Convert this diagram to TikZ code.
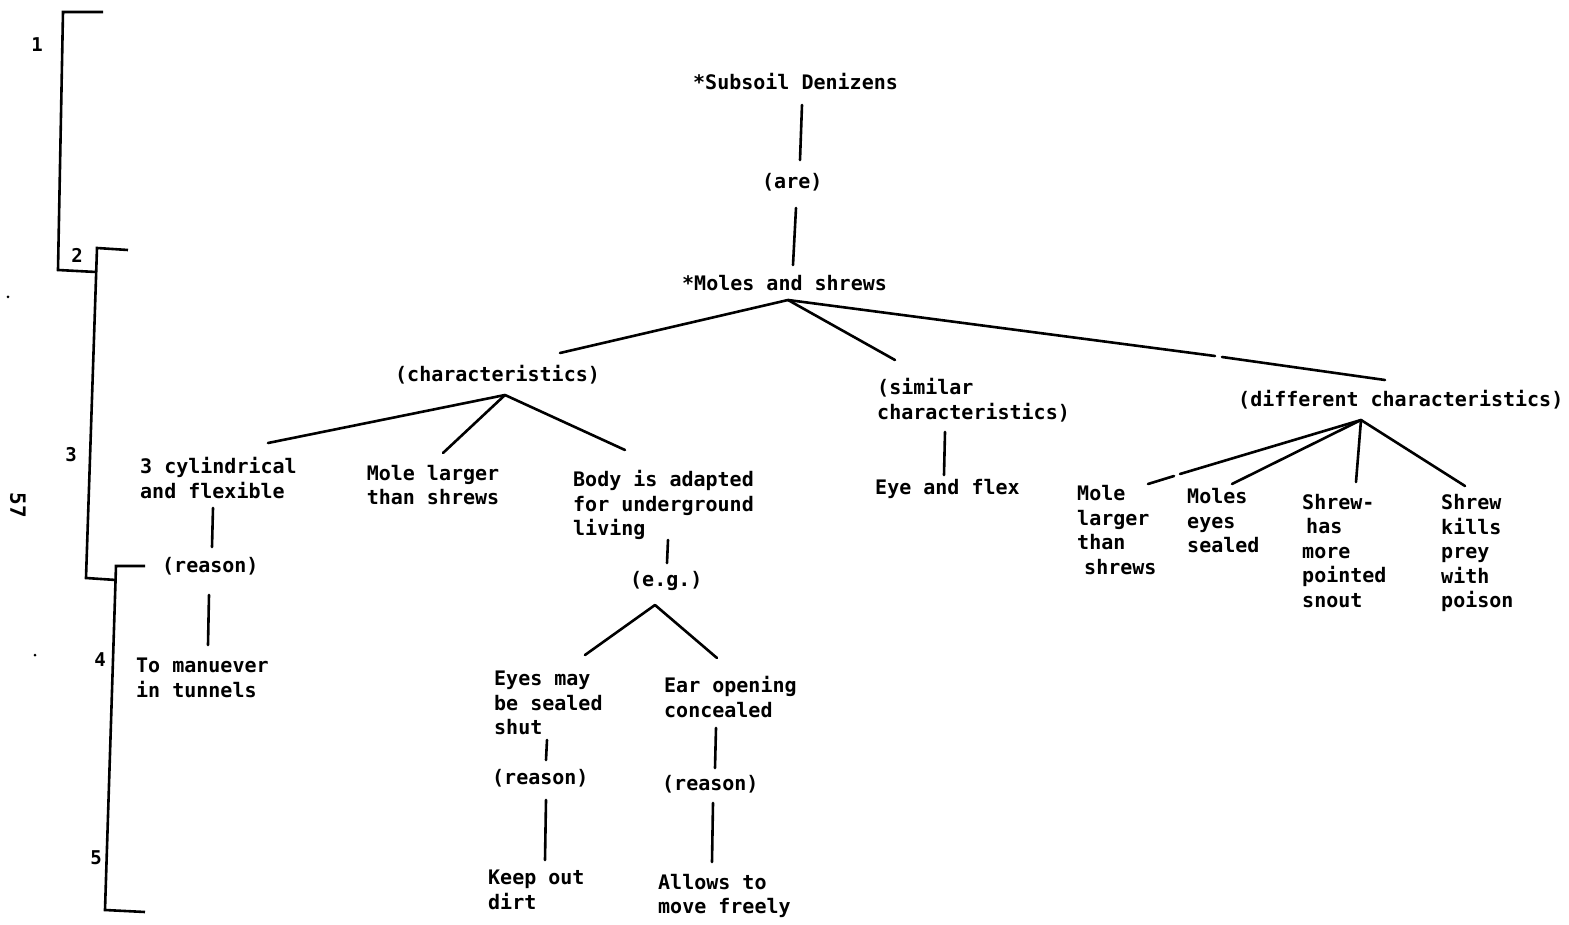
\documentclass[tikz,border=0pt]{standalone}
\usepackage{fontspec}
\setmonofont{DejaVu Sans Mono}
\usetikzlibrary{calc}
\tikzset{
  txt/.style={font=\ttfamily\bfseries\fontsize{20}{24.5}\selectfont, inner sep=0pt, anchor=west, align=left},
  ctxt/.style={txt, anchor=center, align=center},
  num/.style={font=\ttfamily\bfseries\fontsize{19}{22}\selectfont, inner sep=0pt},
  link/.style={line width=2.6pt, line cap=round},
  brace/.style={line width=2.6pt, line cap=butt, line join=miter},
}
\begin{document}
\begin{tikzpicture}[x=1pt, y=-1pt]
\useasboundingbox (0,0) rectangle (1569,925);

% ---- level markers on the left margin ----
\draw[brace] (103,12) -- (63,12) -- (58,270) -- (96,272);
\draw[brace] (128,250) -- (97,248) -- (86,578) -- (116,580);
\draw[brace] (145,566) -- (116,566) -- (105,910) -- (145,912);
\node[num] (l1) at (37,45) {1};
\node[num] (l2) at (77,255) {2};
\node[num] (l3) at (71,455) {3};
\node[num] (l4) at (100,660) {4};
\node[num] (l5) at (96,858) {5};
\node[num, font=\ttfamily\bfseries\fontsize{21}{24}\selectfont, rotate=-90] (pg) at (18,505) {57};
\fill (8,297) circle (1.5pt);
\fill (35,655) circle (1.5pt);

% ---- nodes ----
\node[txt] (sub)  at (693,82)  {*Subsoil Denizens};
\node[txt] (are)  at (762,182) {(are)};
\node[txt] (ms)   at (682,283) {*Moles and shrews};
\node[txt] (char) at (395,375) {(characteristics)};
\node[txt] (sim)  at (877,400) {(similar\\characteristics)};
\node[txt] (diff) at (1238,400) {(different characteristics)};

\node[txt]  (cyl)  at (140,478) {3 cylindrical\\and flexible};
\node[txt]  (rs1)  at (162,566) {(reason)};
\node[txt]  (man)  at (136,678) {To manuever\\in tunnels};
\node[ctxt] (mlt)  at (433,485) {Mole larger\\than shrews};
\node[txt]  (body) at (573,505) {Body is adapted\\for underground\\living};
\node[txt]  (eg)   at (630,581) {(e.g.)};
\node[txt]  (eyes) at (494,703) {Eyes may\\be sealed\\shut};
\node[txt]  (rs2)  at (492,778) {(reason)};
\node[txt]  (keep) at (488,890) {Keep out\\dirt};
\node[txt]  (ear)  at (664,697) {Ear opening\\concealed};
\node[txt]  (rs3)  at (662,784) {(reason)};
\node[txt]  (allow) at (658,896) {Allows to\\move freely};

\node[txt] (eye) at (875,489) {Eye and flex};

\node[txt] (dm) at (1077,530) {Mole\\larger\\than\\\hspace*{0.35em}shrews};
\node[txt] (me) at (1187,521) {Moles\\eyes\\sealed};
\node[txt] (sp) at (1302,551) {Shrew-\\\hspace*{0.2em}has\\more\\pointed\\snout};
\node[txt] (sk) at (1441,553) {Shrew\\kills\\prey\\with\\poison};

% ---- branch points ----
\coordinate (msApex)   at ($(ms.west)+(106,17)$);
\coordinate (charApex) at ($(char.west)+(110,20)$);
\coordinate (egApex)   at ($(eg.west)+(25,24)$);
\coordinate (diffApex) at ($(diff.west)+(123,20)$);

% ---- connectors ----
\draw[link] ($(sub.west)+(109,23)$) -- ($(are.west)+(38,-22)$);
\draw[link] ($(are.west)+(34,26)$) -- ($(ms.west)+(111,-18)$);

\draw[link] (msApex) -- ($(char.west)+(165,-22)$);
\draw[link] (msApex) -- ($(sim.west)+(18,-40)$);
\draw[link] (msApex) -- ($(diff.west)+(-23,-44)$);
\draw[link] ($(diff.west)+(-16,-43)$) -- ($(diff.west)+(147,-20)$);

\draw[link] (charApex) -- ($(cyl.west)+(128,-35)$);
\draw[link] (charApex) -- ($(mlt.center)+(10,-32)$);
\draw[link] (charApex) -- ($(body.west)+(52,-55)$);

\draw[link] ($(cyl.west)+(73,30)$) -- ($(rs1.west)+(50,-19)$);
\draw[link] ($(rs1.west)+(47,29)$) -- ($(man.west)+(72,-33)$);

\draw[link] ($(body.west)+(95,35)$) -- ($(eg.west)+(37,-18)$);
\draw[link] (egApex) -- ($(eyes.west)+(91,-48)$);
\draw[link] (egApex) -- ($(ear.west)+(53,-39)$);

\draw[link] ($(eyes.west)+(53,37)$) -- ($(rs2.west)+(54,-18)$);
\draw[link] ($(rs2.west)+(54,22)$) -- ($(keep.west)+(57,-30)$);
\draw[link] ($(ear.west)+(52,31)$) -- ($(rs3.west)+(53,-16)$);
\draw[link] ($(rs3.west)+(51,19)$) -- ($(allow.west)+(54,-34)$);

\draw[link] ($(sim.west)+(68,32)$) -- ($(eye.west)+(69,-14)$);

\draw[link] (diffApex) -- ($(dm.west)+(103,-56)$);
\draw[link] ($(dm.west)+(97,-54)$) -- ($(dm.west)+(71,-46)$);
\draw[link] (diffApex) -- ($(me.west)+(45,-37)$);
\draw[link] (diffApex) -- ($(sp.west)+(54,-69)$);
\draw[link] (diffApex) -- ($(sk.west)+(24,-67)$);
\end{tikzpicture}
\end{document}
